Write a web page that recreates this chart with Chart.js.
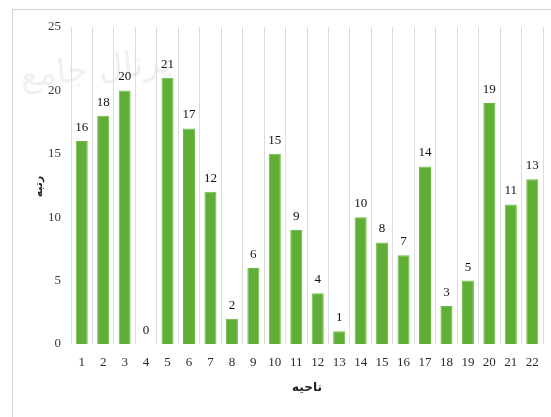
<!DOCTYPE html>
<html>
<head>
<meta charset="utf-8">
<script src="https://cdn.jsdelivr.net/npm/chart.js@4/dist/chart.umd.min.js"></script>
<style>
  html, body { margin: 0; padding: 0; background: #fff; }
  #wrap { position: relative; width: 551px; height: 417px; overflow: hidden; }
  #frame { position: absolute; left: 12px; top: 9px; width: 600px; height: 500px;
           border-left: 1px solid #d4d4d4; border-top: 1px solid #cfcfcf; }
  canvas { position: absolute; left: 0; top: 0; }
</style>
</head>
<body>
<div id="wrap">
  <div id="frame"></div>
  <canvas id="c" width="551" height="417"></canvas>
</div>
<script>
// District numbers and their ranks
const districts = ['1','2','3','4','5','6','7','8','9','10','11','12','13','14','15','16','17','18','19','20','21','22'];
const ranks = [16, 18, 20, 0, 21, 17, 12, 2, 6, 15, 9, 4, 1, 10, 8, 7, 14, 3, 5, 19, 11, 13];
const yTicks = [0, 5, 10, 15, 20, 25];
const xTitle = 'ناحیه';
const yTitle = 'رتبه';

const serif = "'Liberation Serif', 'Times New Roman', serif";
const persian = "'DejaVu Sans', sans-serif";

// Faint calligraphic stamp in the top-left corner
const stampPlugin = {
  id: 'stamp',
  beforeDraw(chart) {
    const ctx = chart.ctx;
    ctx.save();
    ctx.beginPath();
    ctx.rect(13, 10, 540, 410);
    ctx.clip();
    ctx.translate(172, 72);
    ctx.rotate(-0.1);
    ctx.fillStyle = 'rgba(140,140,140,0.13)';
    ctx.font = '34px ' + persian;
    ctx.textAlign = 'right';
    ctx.textBaseline = 'alphabetic';
    ctx.direction = 'rtl';
    ctx.fillText('پرتال جامع علوم انسانی', 0, 0);
    ctx.restore();
  }
};

// Value labels above each bar, plus the two axis titles
const valueLabels = {
  id: 'valueLabels',
  afterDatasetsDraw(chart) {
    const ctx = chart.ctx;
    const area = chart.chartArea;
    const meta = chart.getDatasetMeta(0);
    ctx.save();
    ctx.fillStyle = '#111';
    ctx.font = '13px ' + serif;
    ctx.textAlign = 'center';
    ctx.textBaseline = 'bottom';
    meta.data.forEach((bar, i) => {
      ctx.fillText(String(ranks[i]), bar.x, bar.y - 7);
    });

    ctx.fillStyle = '#222';
    ctx.font = 'bold 12px ' + persian;
    ctx.textBaseline = 'middle';
    ctx.direction = 'rtl';
    ctx.fillText(xTitle, (area.left + area.right) / 2, 388);

    ctx.translate(39, (area.top + area.bottom) / 2 + 1);
    ctx.rotate(-Math.PI / 2);
    ctx.font = 'bold 11px ' + persian;
    ctx.fillText(yTitle, 0, 0);
    ctx.restore();
  }
};

new Chart(document.getElementById('c'), {
  type: 'bar',
  data: {
    labels: districts,
    datasets: [{
      data: ranks,
      backgroundColor: '#5fae36',
      borderColor: '#6dbb44',
      borderWidth: 1,
      barPercentage: 0.56,
      categoryPercentage: 1.0
    }]
  },
  options: {
    responsive: false,
    animation: false,
    layout: { padding: { left: 0, right: 8, top: 27, bottom: 0 } },
    plugins: {
      legend: { display: false },
      tooltip: { enabled: false }
    },
    scales: {
      x: {
        offset: true,
        grid: { display: true, offset: true, color: '#dcdcdc', lineWidth: 1, drawTicks: false },
        border: { display: false },
        ticks: { color: '#2a2a2a', font: { family: serif, size: 13 }, padding: 11, maxRotation: 0, autoSkip: false },
        afterFit(scale) { scale.height = 73; }
      },
      y: {
        min: 0,
        max: 25,
        afterBuildTicks(scale) { scale.ticks = yTicks.map(v => ({ value: v })); },
        grid: { display: false, drawTicks: false },
        border: { display: false },
        ticks: { color: '#3a3a3a', font: { family: serif, size: 13 }, padding: 10 },
        afterFit(scale) { scale.width = 71; }
      }
    }
  },
  plugins: [stampPlugin, valueLabels]
});
</script>
</body>
</html>
